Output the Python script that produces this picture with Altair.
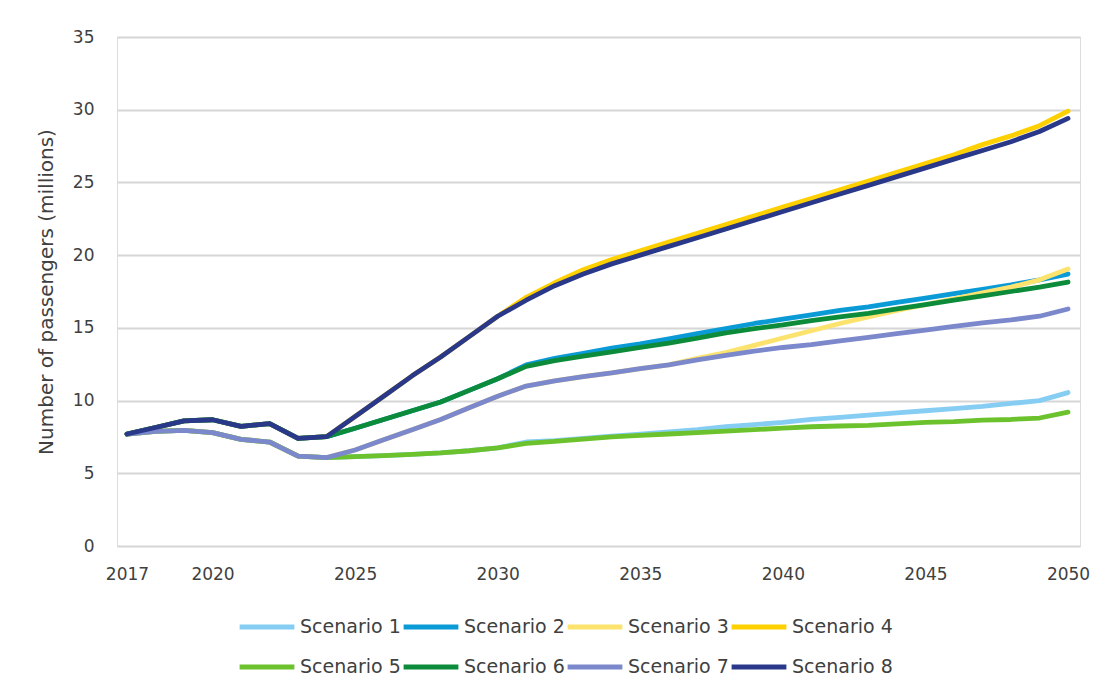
import altair as alt
import pandas as pd

years = list(range(2017, 2051))
names = ["Scenario 1", "Scenario 2", "Scenario 3", "Scenario 4",
         "Scenario 5", "Scenario 6", "Scenario 7", "Scenario 8"]
colors = ["#86cdf3", "#0a9ad6", "#fbe36e", "#ffd000",
          "#6cc22c", "#0c8b3b", "#7c88cc", "#2a3889"]

# 2017-2024 (shared by groups)
upper_early = [7.7, 8.15, 8.6, 8.68, 8.22, 8.42, 7.4, 7.52]
lower_early = [7.7, 7.88, 7.95, 7.8, 7.33, 7.15, 6.18, 6.08]

# 2025-2050
s1 = [6.15, 6.22, 6.3, 6.4, 6.55, 6.75, 7.15, 7.25, 7.4, 7.55, 7.7, 7.85, 8.0,
      8.2, 8.35, 8.5, 8.7, 8.85, 9.0, 9.15, 9.3, 9.45, 9.6, 9.8, 10.0, 10.55]
s2 = [8.1, 8.7, 9.3, 9.9, 10.7, 11.5, 12.45, 12.9, 13.25, 13.6, 13.9, 14.25, 14.6,
      14.95, 15.3, 15.6, 15.9, 16.2, 16.45, 16.75, 17.05, 17.35, 17.65, 17.95, 18.3, 18.7]
s3 = [6.6, 7.3, 8.0, 8.7, 9.5, 10.3, 11.0, 11.35, 11.65, 11.9, 12.2, 12.45, 12.9,
      13.3, 13.8, 14.3, 14.8, 15.3, 15.75, 16.2, 16.6, 17.0, 17.4, 17.8, 18.3, 19.05]
s4 = [8.9, 10.3, 11.7, 13.0, 14.4, 15.8, 17.1, 18.1, 19.0, 19.7, 20.3, 20.9, 21.5,
      22.1, 22.7, 23.3, 23.9, 24.5, 25.1, 25.7, 26.3, 26.9, 27.6, 28.2, 28.9, 29.9]
s5 = [6.15, 6.22, 6.3, 6.4, 6.55, 6.75, 7.05, 7.2, 7.35, 7.5, 7.6, 7.7, 7.8,
      7.9, 8.0, 8.1, 8.2, 8.25, 8.3, 8.4, 8.5, 8.55, 8.65, 8.7, 8.8, 9.2]
s6 = [8.1, 8.7, 9.3, 9.9, 10.7, 11.5, 12.35, 12.75, 13.05, 13.35, 13.65, 13.95, 14.3,
      14.65, 14.95, 15.2, 15.5, 15.75, 16.0, 16.3, 16.6, 16.9, 17.2, 17.5, 17.8, 18.15]
s7 = [6.6, 7.3, 8.0, 8.7, 9.5, 10.3, 11.0, 11.35, 11.65, 11.9, 12.2, 12.45, 12.8,
      13.1, 13.4, 13.65, 13.85, 14.1, 14.35, 14.6, 14.85, 15.1, 15.35, 15.55, 15.8, 16.3]
s8 = [8.9, 10.3, 11.7, 13.0, 14.4, 15.8, 16.9, 17.9, 18.7, 19.4, 20.0, 20.6, 21.2,
      21.8, 22.4, 23.0, 23.6, 24.2, 24.8, 25.4, 26.0, 26.6, 27.2, 27.8, 28.5, 29.4]

series = [lower_early + s1, upper_early + s2, lower_early + s3, upper_early + s4,
          lower_early + s5, upper_early + s6, lower_early + s7, upper_early + s8]

x_ticks = [2017, 2020, 2025, 2030, 2035, 2040, 2045, 2050]
y_ticks = [0, 5, 10, 15, 20, 25, 30, 35]

rows = []
for idx, (name, vals) in enumerate(zip(names, series)):
    for yr, v in zip(years, vals):
        rows.append({"scenario": name, "year": yr, "value": v, "k": idx})
df = pd.DataFrame(rows)

FONT = "DejaVu Sans"
TXT = "#404040"

chart = alt.Chart(df).mark_line(
    strokeWidth=4.8, strokeJoin="round", strokeCap="round"
).encode(
    x=alt.X("year:Q",
            scale=alt.Scale(domain=[2016.65, 2050.42], nice=False, zero=False),
            axis=alt.Axis(values=x_ticks, format="d", title=None, grid=False,
                          ticks=False, domain=False, labelPadding=20,
                          labelFontSize=17, labelColor=TXT, labelFont=FONT,
                          labelFlush=False)),
    y=alt.Y("value:Q",
            scale=alt.Scale(domain=[0, 35], nice=False),
            axis=alt.Axis(values=y_ticks, grid=True, gridColor="#d6d6d6",
                          gridWidth=2, domain=False, ticks=False,
                          labelPadding=23, labelFontSize=17, labelColor=TXT,
                          labelFont=FONT,
                          title="Number of passengers (millions)",
                          titleFontSize=20, titleFontWeight="normal",
                          titleColor=TXT, titleFont=FONT, titlePadding=16)),
    color=alt.Color("scenario:N",
                    scale=alt.Scale(domain=names, range=colors),
                    legend=alt.Legend(title=None, orient="none", legendX=120,
                                      legendY=560, direction="horizontal",
                                      columns=4, symbolType="stroke",
                                      symbolSize=3000, symbolStrokeWidth=5,
                                      labelFontSize=19, labelColor=TXT,
                                      labelFont=FONT, columnPadding=-9,
                                      rowPadding=-17, labelOffset=3)),
    detail="k:O",
).properties(
    width=963, height=509,
    autosize=alt.AutoSizeParams(type="none"),
    padding={"left": 109, "top": 29, "right": 22, "bottom": 140},
).configure_view(
    stroke="#c4c4c4", strokeWidth=1.5
).configure(background="white")

chart.save("out.html", embed_options={"renderer": "svg", "actions": False})
